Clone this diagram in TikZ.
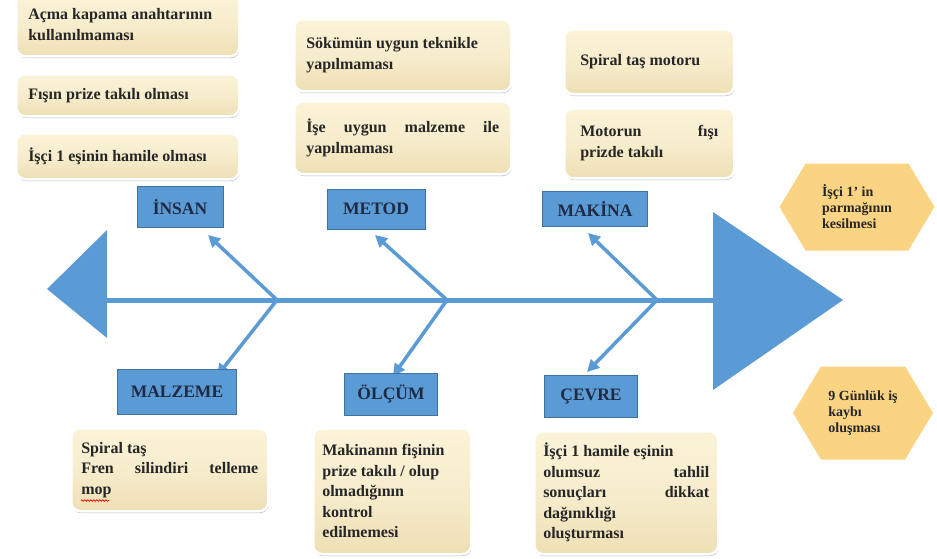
\documentclass[tikz,border=0pt]{standalone}
\usepackage{fontspec}
\setmainfont{Liberation Serif}
\usetikzlibrary{arrows.meta, shapes.symbols, shadows, calc, decorations.pathmorphing}

\definecolor{fishblue}{HTML}{5B9BD5}
\definecolor{labelline}{HTML}{41719C}
\definecolor{labeltext}{HTML}{1F2A44}
\definecolor{creamtop}{HTML}{FBF3D8}
\definecolor{creambot}{HTML}{EEDFB4}
\definecolor{hexfill}{HTML}{FAD383}

\begin{document}
\begin{tikzpicture}[x=1pt,y=-1pt,>={Triangle[length=12pt,width=12pt]},
  bone/.style={draw=fishblue,line width=3.5pt,->},
  cat node/.style={draw=labelline,fill=fishblue,text=labeltext,
    font=\fontsize{17.5}{20}\selectfont\bfseries,inner sep=0pt},
  cause node/.style={anchor=north west,rounded corners=9pt,draw=white,line width=2.5pt,
    top color=creamtop,bottom color=creambot,middle color=creamtop!70!creambot,
    drop shadow={shadow xshift=0.6pt,shadow yshift=-1.8pt,opacity=0.55},
    font=\fontsize{16}{20.5}\selectfont\bfseries,text=black!85,align=justify,
    inner xsep=12pt,inner ysep=0pt},
  effect node/.style={signal,signal to=west and east,signal pointer angle=118,fill=hexfill,
    font=\fontsize{14}{16}\selectfont\bfseries,text=black!85,align=left,inner sep=0pt}]
  \useasboundingbox (0,0) rectangle (937,558);

  % head and tail of the fish
  \fill[fishblue] (47,289) -- (107,230) -- (107,338) -- cycle;
  \fill[fishblue] (713,212) -- (843,300) -- (713,390) -- cycle;
  \coordinate (tail) at (105,300);
  \coordinate (head) at (715,300);
  \draw[fishblue,line width=5pt] (tail) -- (head);

  % bones
  \coordinate (j1) at (277,300);
  \coordinate (j2) at (447,300);
  \coordinate (j3) at (657,300);
  \coordinate (t1) at (208,235);
  \coordinate (b1) at (217,376);
  \coordinate (t2) at (375,235);
  \coordinate (b2) at (393,376);
  \coordinate (t3) at (588,233);
  \coordinate (b3) at (587,372);
  \path (j1) edge[bone] (t1) edge[bone] (b1)
    (j2) edge[bone] (t2) edge[bone] (b2)
    (j3) edge[bone] (t3) edge[bone] (b3);

  % categories
  \node[cat node, minimum width=86pt, minimum height=41pt] (insan) at (180,207) {İNSAN};
  \node[cat node, minimum width=98pt, minimum height=40pt] (metod) at (376,209) {METOD};
  \node[cat node, minimum width=105pt, minimum height=35pt] (makina) at (595,209) {MAKİNA};
  \node[cat node, minimum width=119pt, minimum height=45pt] (malzeme) at (177,392) {MALZEME};
  \node[cat node, minimum width=93pt, minimum height=42pt] (olcum) at (391,394) {ÖLÇÜM};
  \node[cat node, minimum width=93pt, minimum height=42pt] (cevre) at (591,396) {ÇEVRE};

  % causes
  \node[cause node, text width=199pt, minimum height=63pt] (insan1) at (15,-8)
    {Açma kapama anahtarının\\ kullanılmaması};
  \node[cause node, text width=199pt, minimum height=42pt] (insan2) at (15,73)
    {Fışın prize takılı olması};
  \node[cause node, text width=199pt, minimum height=46pt] (insan3) at (15,132)
    {İşçi 1 eşinin hamile olması};
  \node[cause node, text width=193pt, minimum height=72pt] (metod1) at (293,18)
    {Sökümün uygun teknikle\\ yapılmaması};
  \node[cause node, text width=193pt, minimum height=73pt] (metod2) at (293,100)
    {İşe\hfill uygun\hfill malzeme\hfill ile\\ yapılmaması};
  \node[cause node, text width=138pt, inner xsep=16pt, minimum height=65pt] (makina1) at (563,28)
    {Spiral taş motoru};
  \node[cause node, text width=138pt, inner xsep=16pt, minimum height=70pt] (makina2) at (563,107)
    {Motorun\hfill fışı\\ prizde takılı};
  \node[cause node, text width=177pt, inner xsep=10pt, minimum height=83pt] (malzeme1) at (70,427)
    {Spiral taş\\ Fren\hfill silindiri\hfill telleme\\ mop};
  \node[cause node, text width=140pt, inner xsep=9pt, minimum height=126pt] (olcum1) at (312,427)
    {Makinanın fişinin\\ prize takılı / olup\\ olmadığının\\ kontrol\\ edilmemesi};
  \node[cause node, text width=166pt, inner xsep=9pt, minimum height=123pt] (cevre1) at (533,430)
    {İşçi 1 hamile eşinin\\ olumsuz\hfill tahlil\\ sonuçları\hfill dikkat\\ dağınıklığı\\ oluşturması};
  \draw[red,line width=0.7pt,decorate,decoration={snake,amplitude=0.8pt,segment length=3pt}]
    ($(malzeme1.south west)+(11,-12)$) -- ++(28,0);

  % effects
  \node[effect node, minimum width=155pt, minimum height=87pt] (effect1) at (857,207)
    {İşçi 1’ in\\ parmağının\\ kesilmesi};
  \node[effect node, minimum width=140pt, minimum height=93pt] (effect2) at (863,413)
    {9 Günlük iş\\ kaybı\\ oluşması};
\end{tikzpicture}
\end{document}
